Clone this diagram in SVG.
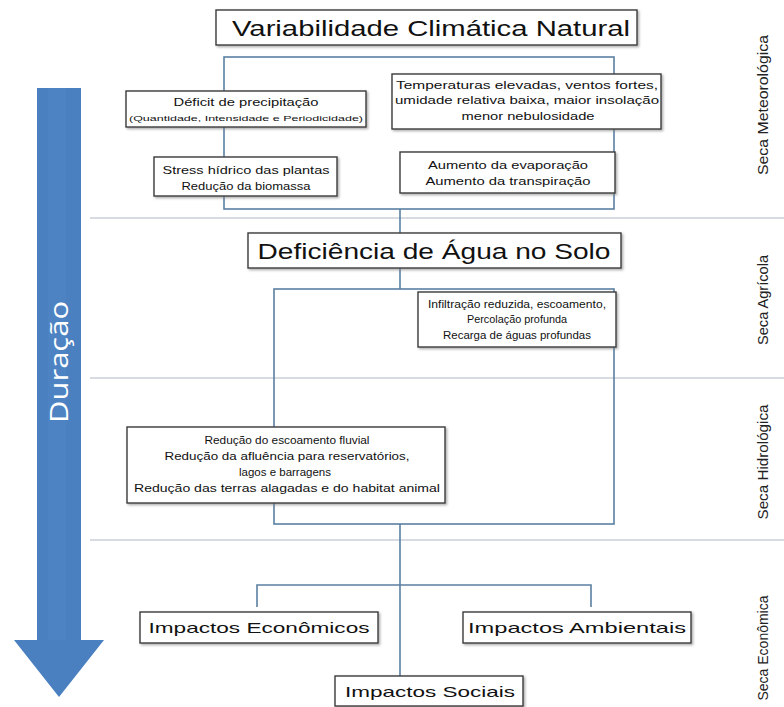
<svg xmlns="http://www.w3.org/2000/svg" width="784" height="707" viewBox="0 0 784 707">
<defs>
<filter id="sh" x="-5%" y="-10%" width="115%" height="130%">
<feDropShadow dx="1.5" dy="1.5" stdDeviation="0.8" flood-color="#777" flood-opacity="0.6"/>
</filter>
<style>
.box{fill:#fff;stroke:#3a3a3a;stroke-width:1.4;filter:url(#sh)}
.t{font-family:"Liberation Sans",Arial,sans-serif;fill:#111;text-anchor:middle}
.s{font-size:11px}
.big{font-size:22px}
.mid{font-size:15px}
.sep{stroke:#c9d1d9;stroke-width:1.5;fill:none}
.con{stroke:#5b7fa3;stroke-width:1.6;fill:none}
.lab{font-family:"Liberation Sans",Arial,sans-serif;font-size:14px;fill:#222;text-anchor:middle}
</style>
</defs>
<rect width="784" height="707" fill="#fff"/>

<g id="separators">
<line class="sep" x1="90" y1="218" x2="784" y2="218"/>
<line class="sep" x1="90" y1="378" x2="784" y2="378"/>
<line class="sep" x1="90" y1="540" x2="784" y2="540"/>
</g>

<g id="duracao">
<polygon points="37,88 81,88 81,640 104,640 59,697 14,640 37,640" fill="#4a7fc0"/>
<rect x="48" y="88" width="18" height="552" fill="#5a8dcb" opacity="0.3"/>
<text transform="translate(68,362) rotate(-90)" font-family="'Open Sans','Liberation Sans',sans-serif" font-size="26" fill="#fff" text-anchor="middle" textLength="122" lengthAdjust="spacingAndGlyphs">Duração</text>
</g>

<g id="connectors">
<rect class="con" x="224" y="57" width="390" height="152"/>
<line class="con" x1="400" y1="209" x2="400" y2="289"/>
<rect class="con" x="274" y="289" width="340" height="235"/>
<line class="con" x1="400" y1="524" x2="400" y2="676"/>
<polyline class="con" points="257,607 257,585 591,585 591,607"/>
</g>

<g id="n-variabilidade">
<rect class="box" x="216" y="10" width="421" height="35"/>
<text class="t big" x="431" y="36" textLength="398" lengthAdjust="spacingAndGlyphs">Variabilidade Climática Natural</text>
</g>

<g id="n-deficit">
<rect class="box" x="126" y="91" width="240" height="36"/>
<text class="t" x="246" y="106" font-size="10.5" textLength="145" lengthAdjust="spacingAndGlyphs">Déficit de precipitação</text>
<text class="t" x="246" y="121" font-size="7.5" textLength="234" lengthAdjust="spacingAndGlyphs">(Quantidade, Intensidade e Periodicidade)</text>
</g>

<g id="n-temperaturas">
<rect class="box" x="392" y="74" width="269" height="55"/>
<text class="t s" x="527" y="89" textLength="262" lengthAdjust="spacingAndGlyphs">Temperaturas elevadas, ventos fortes,</text>
<text class="t s" x="527" y="104" textLength="264" lengthAdjust="spacingAndGlyphs">umidade relativa baixa, maior insolação</text>
<text class="t s" x="528" y="120" textLength="133" lengthAdjust="spacingAndGlyphs">menor nebulosidade</text>
</g>

<g id="n-stress">
<rect class="box" x="154" y="157" width="183" height="39"/>
<text class="t s" x="246" y="174" textLength="167" lengthAdjust="spacingAndGlyphs">Stress hídrico das plantas</text>
<text class="t s" x="246" y="190" textLength="129" lengthAdjust="spacingAndGlyphs">Redução da biomassa</text>
</g>

<g id="n-aumento">
<rect class="box" x="400" y="152" width="215" height="41"/>
<text class="t s" x="508" y="169" textLength="160" lengthAdjust="spacingAndGlyphs">Aumento da evaporação</text>
<text class="t s" x="508" y="185" textLength="165" lengthAdjust="spacingAndGlyphs">Aumento da transpiração</text>
</g>

<g id="n-deficiencia">
<rect class="box" x="248" y="233" width="373" height="35"/>
<text class="t big" x="434" y="259" font-size="21" textLength="353" lengthAdjust="spacingAndGlyphs">Deficiência de Água no Solo</text>
</g>

<g id="n-infiltracao">
<rect class="box" x="418" y="292" width="198" height="55"/>
<text class="t s" x="517" y="308" textLength="178" lengthAdjust="spacingAndGlyphs">Infiltração reduzida, escoamento,</text>
<text class="t s" x="517" y="323" textLength="100" lengthAdjust="spacingAndGlyphs">Percolação profunda</text>
<text class="t s" x="517" y="339" textLength="148" lengthAdjust="spacingAndGlyphs">Recarga de águas profundas</text>
</g>

<g id="n-reducao">
<rect class="box" x="127" y="427" width="318" height="76"/>
<text class="t s" x="287" y="444" textLength="165" lengthAdjust="spacingAndGlyphs">Redução do escoamento fluvial</text>
<text class="t s" x="287" y="460" textLength="245" lengthAdjust="spacingAndGlyphs">Redução da afluência para reservatórios,</text>
<text class="t s" x="285" y="476" textLength="92" lengthAdjust="spacingAndGlyphs">lagos e barragens</text>
<text class="t s" x="287" y="492" textLength="306" lengthAdjust="spacingAndGlyphs">Redução das terras alagadas e do habitat animal</text>
</g>

<g id="n-economicos">
<rect class="box" x="140" y="612" width="238" height="31"/>
<text class="t mid" x="259" y="633" textLength="221" lengthAdjust="spacingAndGlyphs">Impactos Econômicos</text>
</g>

<g id="n-ambientais">
<rect class="box" x="463" y="612" width="228" height="31"/>
<text class="t mid" x="577" y="633" textLength="218" lengthAdjust="spacingAndGlyphs">Impactos Ambientais</text>
</g>

<g id="n-sociais">
<rect class="box" x="335" y="676" width="188" height="30"/>
<text class="t mid" x="430" y="697" textLength="170" lengthAdjust="spacingAndGlyphs">Impactos Sociais</text>
</g>

<g id="labels">
<text class="lab" transform="translate(768,105) rotate(-90)" textLength="140" lengthAdjust="spacingAndGlyphs">Seca Meteorológica</text>
<text class="lab" transform="translate(768,300) rotate(-90)" textLength="90" lengthAdjust="spacingAndGlyphs">Seca Agrícola</text>
<text class="lab" transform="translate(768,462) rotate(-90)" textLength="115" lengthAdjust="spacingAndGlyphs">Seca Hidrológica</text>
<text class="lab" transform="translate(768,648) rotate(-90)" textLength="105" lengthAdjust="spacingAndGlyphs">Seca Econômica</text>
</g>
</svg>
